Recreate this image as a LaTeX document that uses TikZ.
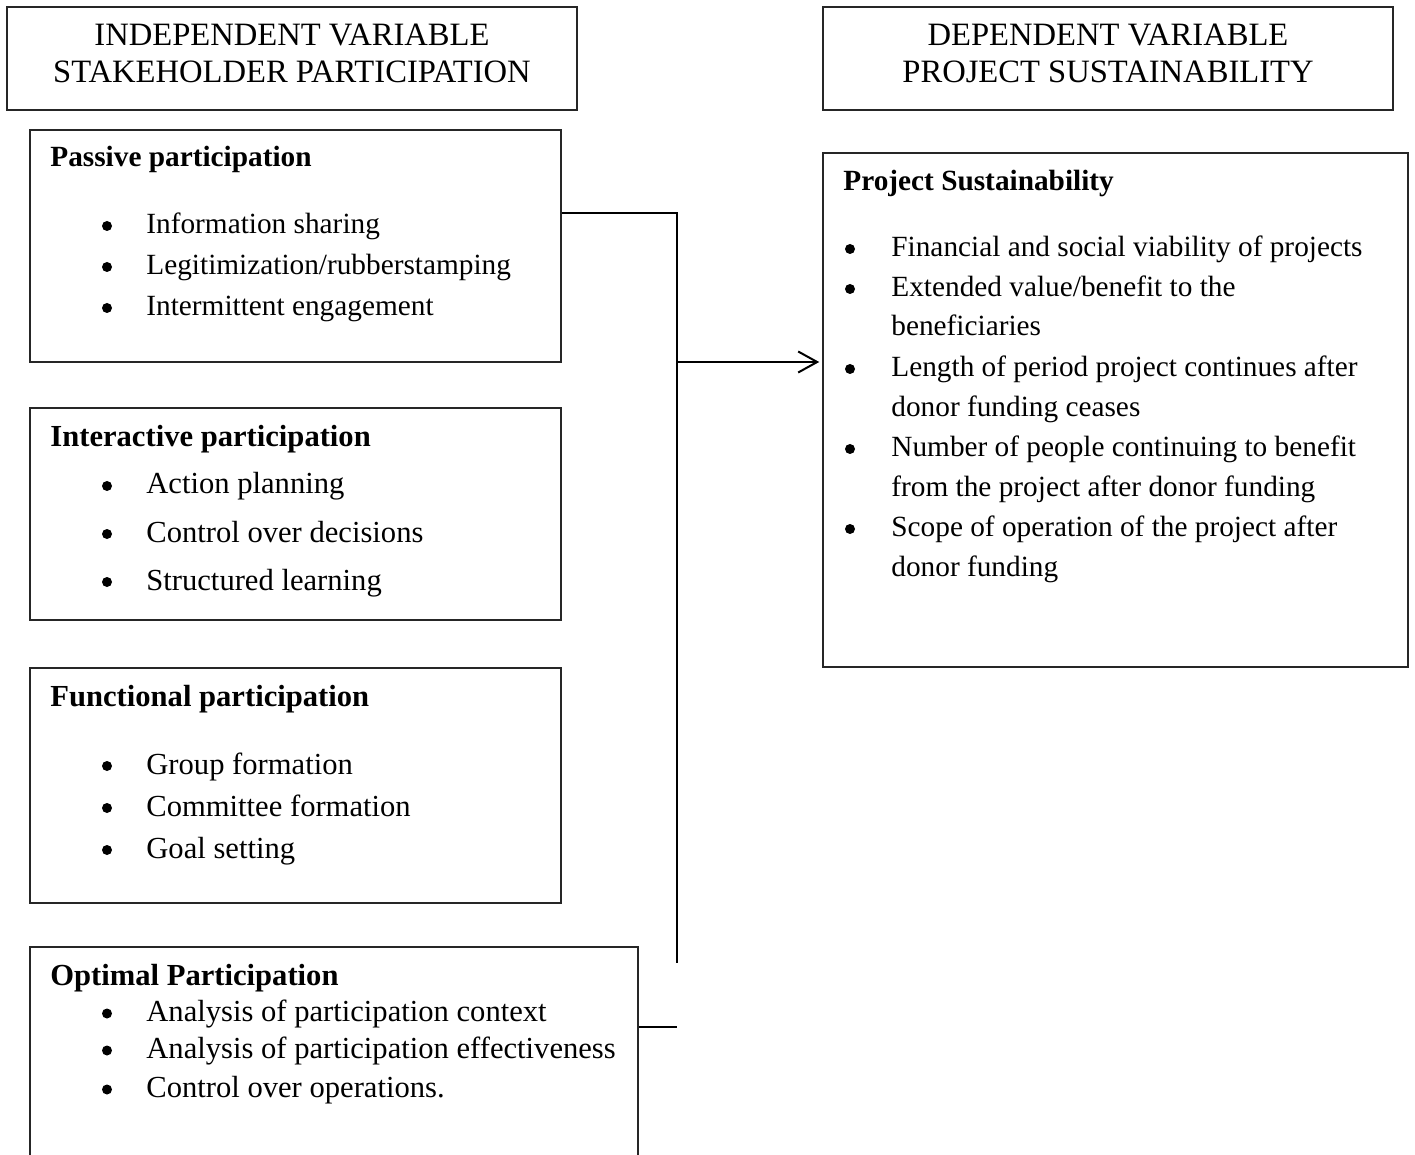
\documentclass[tikz,border=0pt]{standalone}
\usepackage{fontspec}
\setmainfont{Liberation Serif}
\usetikzlibrary{arrows.meta}
\tikzset{
  box/.style={draw=black!85, line width=0.75pt, rectangle, inner sep=0pt},
  txt/.style={inner sep=0pt, anchor=base west, font=\fontsize{14.65pt}{18pt}\selectfont},
  txtL/.style={inner sep=0pt, anchor=base west, font=\fontsize{15.3pt}{18pt}\selectfont},
  ctr/.style={inner sep=0pt, anchor=base, font=\fontsize{16.3pt}{18pt}\selectfont},
  ttl/.style={inner sep=0pt, anchor=base west, font=\fontsize{14.65pt}{18pt}\selectfont\bfseries},
  ttlL/.style={inner sep=0pt, anchor=base west, font=\fontsize{15.3pt}{18pt}\selectfont\bfseries},
  bul/.style={circle, fill=black, draw=none, inner sep=0pt, minimum size=5pt},
  conn/.style={draw=black, line width=1pt},
}
\begin{document}
\begin{tikzpicture}[x=0.5pt,y=-0.5pt]
\useasboundingbox (0,0) rectangle (1415,1155);

% header boxes
\node[box, minimum width=285pt, minimum height=51.5pt] (hdrL) at (292,58.5) {};
\node[box, minimum width=285pt, minimum height=51.5pt] (hdrR) at (1108,58.5) {};
\node[ctr] (hL1) at (292,46) {INDEPENDENT VARIABLE};
\node[ctr] (hL2) at (292,83) {STAKEHOLDER PARTICIPATION};
\node[ctr] (hR1) at (1108,46) {DEPENDENT VARIABLE};
\node[ctr] (hR2) at (1108,83) {PROJECT SUSTAINABILITY};

% left boxes
\node[box, minimum width=265.5pt, minimum height=116pt] (passive) at (295.5,246) {};
\node[box, minimum width=265.5pt, minimum height=106pt] (interactive) at (295.5,514) {};
\node[box, minimum width=265.5pt, minimum height=117.5pt] (functional) at (295.5,785.5) {};
\node[box, minimum width=304pt, minimum height=109pt] (optimal) at (334,1056) {};
% right box
\node[box, minimum width=292.5pt, minimum height=257pt] (sust) at (1115.5,410) {};

% passive
\node[ttl] (tP) at (50,167) {Passive participation};
\node[bul] (bP1) at (107,226) {}; \node[txt] (iP1) at (146,234) {Information sharing};
\node[bul] (bP2) at (107,267) {}; \node[txt] (iP2) at (146,275) {Legitimization/rubberstamping};
\node[bul] (bP3) at (107,308) {}; \node[txt] (iP3) at (146,316) {Intermittent engagement};

% interactive
\node[ttlL] (tI) at (50,446.5) {Interactive participation};
\node[bul] (bI1) at (107,486) {}; \node[txtL] (iI1) at (146,494) {Action planning};
\node[bul] (bI2) at (107,534) {}; \node[txtL] (iI2) at (146,542) {Control over decisions};
\node[bul] (bI3) at (107,582) {}; \node[txtL] (iI3) at (146,590) {Structured learning};

% functional
\node[ttlL] (tF) at (50,706.5) {Functional participation};
\node[bul] (bF1) at (107,766) {}; \node[txtL] (iF1) at (146,774) {Group formation};
\node[bul] (bF2) at (107,808) {}; \node[txtL] (iF2) at (146,816) {Committee formation};
\node[bul] (bF3) at (107,850) {}; \node[txtL] (iF3) at (146,858) {Goal setting};

% optimal
\node[ttlL] (tO) at (50,985) {Optimal Participation};
\node[bul] (bO1) at (107,1013.5) {}; \node[txtL] (iO1) at (146,1021.5) {Analysis of participation context};
\node[bul] (bO2) at (107,1050.5) {}; \node[txtL] (iO2) at (146,1058.5) {Analysis of participation effectiveness};
\node[bul] (bO3) at (107,1089.5) {}; \node[txtL] (iO3) at (146,1097.5) {Control over operations.};

% sustainability
\node[ttl] (tS) at (843,191) {Project Sustainability};
\node[bul] (bS1) at (850,249) {}; \node[txt] (iS1) at (891,257) {Financial and social viability of projects};
\node[bul] (bS2) at (850,289) {}; \node[txt] (iS2) at (891,297) {Extended value/benefit to the};
\node[txt] (iS2b) at (891,336) {beneficiaries};
\node[bul] (bS3) at (850,369) {}; \node[txt] (iS3) at (891,377) {Length of period project continues after};
\node[txt] (iS3b) at (891,416) {donor funding ceases};
\node[bul] (bS4) at (850,449) {}; \node[txt] (iS4) at (891,457) {Number of people continuing to benefit};
\node[txt] (iS4b) at (891,496) {from the project after donor funding};
\node[bul] (bS5) at (850,529) {}; \node[txt] (iS5) at (891,537) {Scope of operation of the project after};
\node[txt] (iS5b) at (891,576) {donor funding};

% connectors
\coordinate (jTop) at (677,213);
\coordinate (jMid) at (677,362);
\coordinate (jBot) at (677,963);
\coordinate (jOpt) at (677,1027);
\draw[conn] (passive.east |- jTop) -- (jTop) -- (jBot);
\draw[conn, -{Straight Barb[length=9.5pt,width=10.5pt,line width=1pt]}] (jMid) -- ([xshift=-1.5pt]sust.west |- jMid);
\draw[conn] (optimal.east |- jOpt) -- (jOpt);
\end{tikzpicture}
\end{document}
